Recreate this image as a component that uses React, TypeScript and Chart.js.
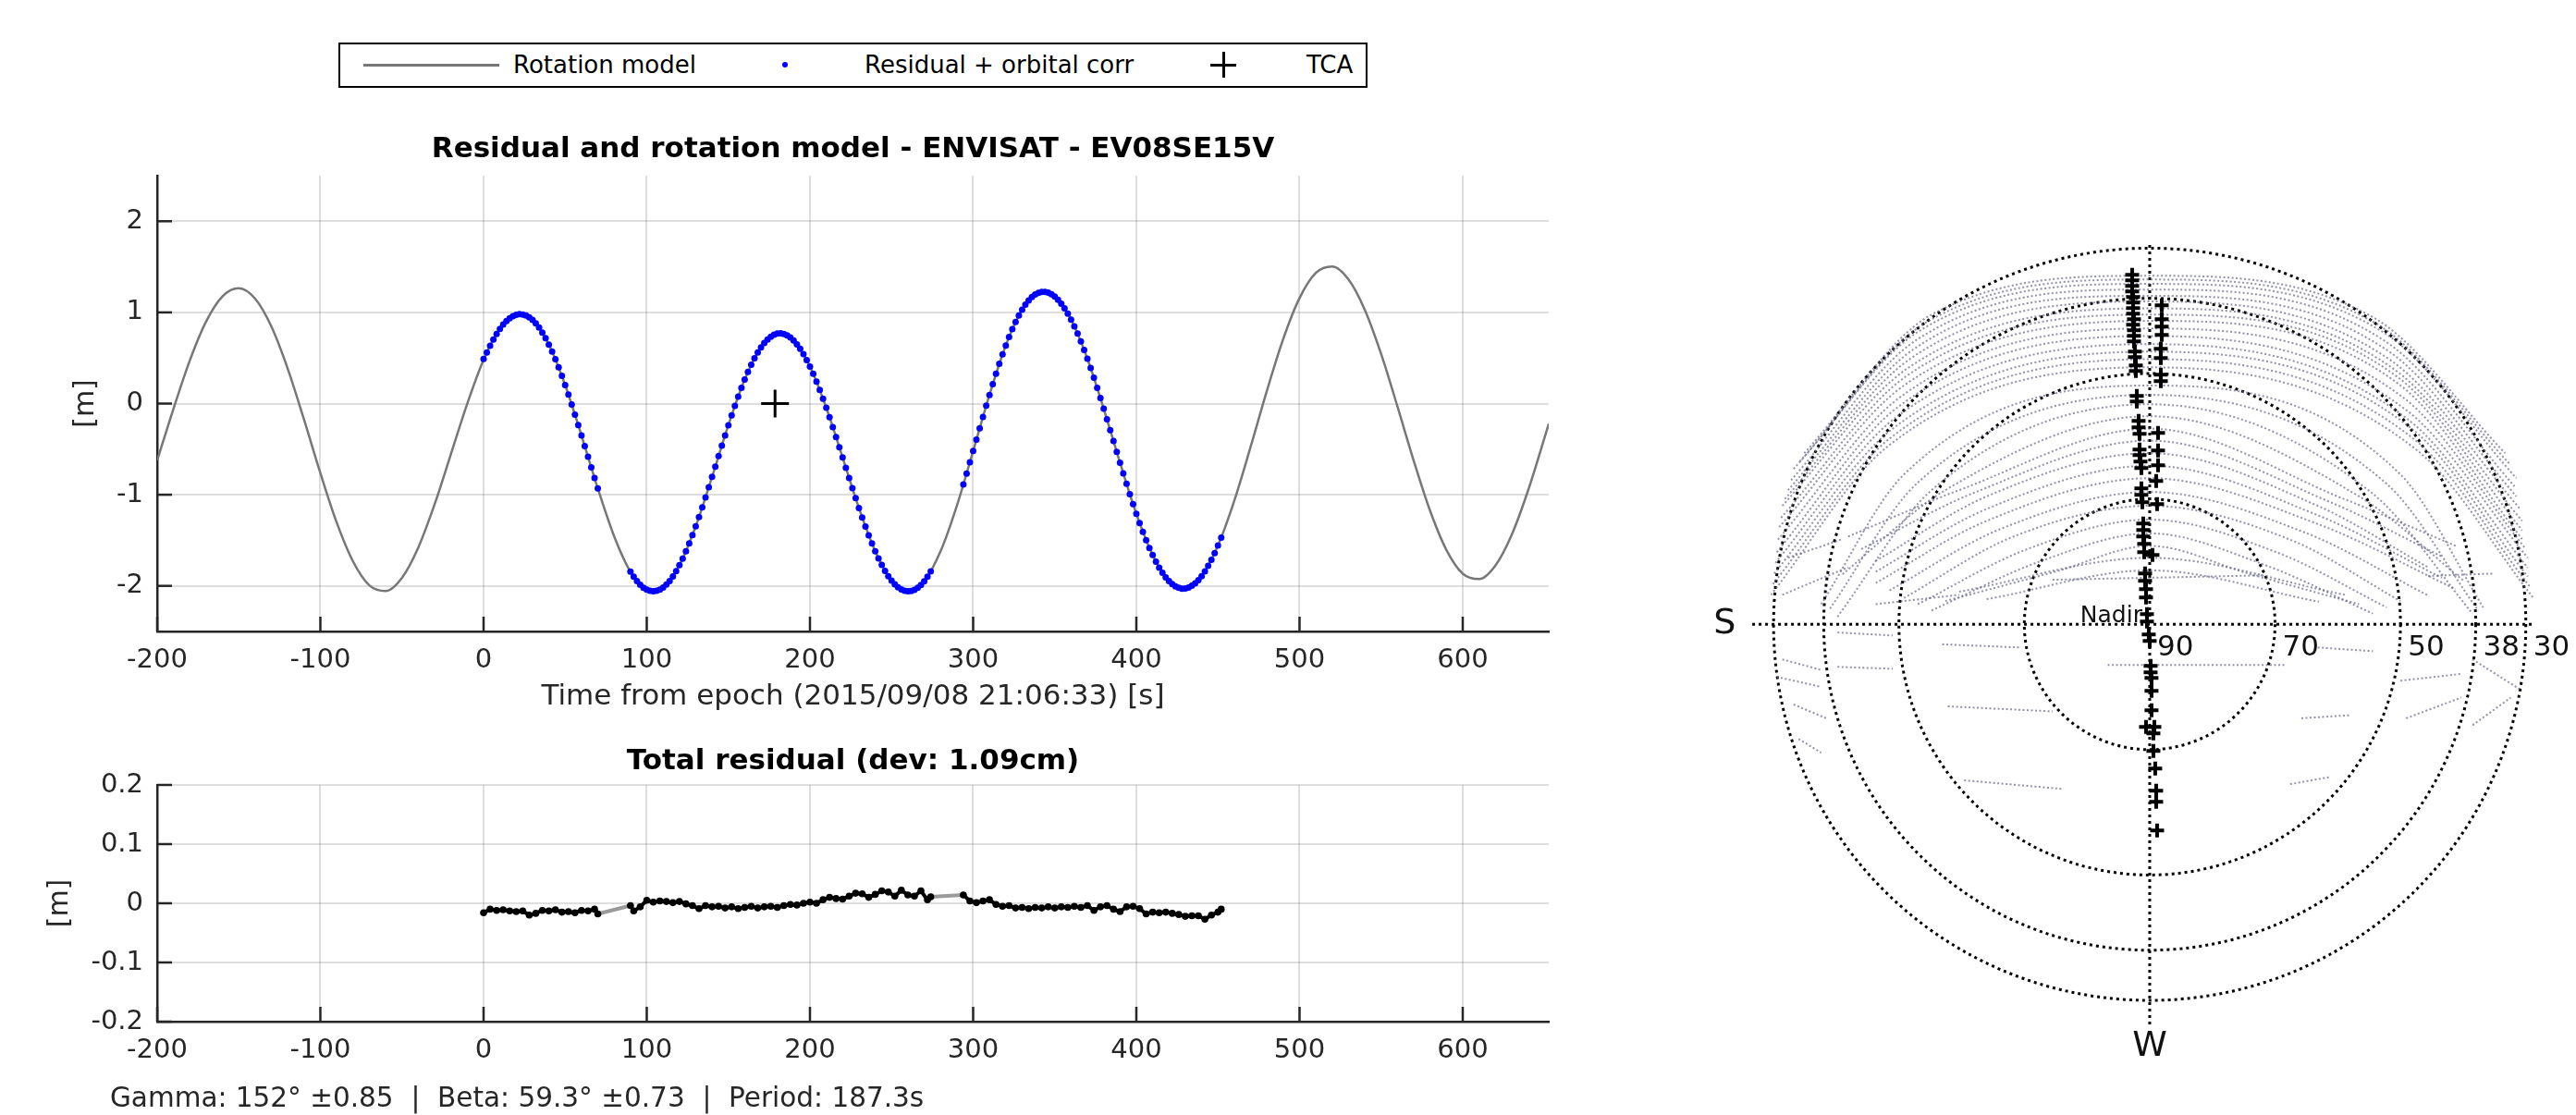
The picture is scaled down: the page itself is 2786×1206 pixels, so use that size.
import React, { useEffect, useRef } from 'react';
import Chart from 'chart.js/auto';

const FONT = '"DejaVu Sans", sans-serif';
const INK = '#262626';

// ---------- axis plots ----------
const xTicks = [-200, -100, 0, 100, 200, 300, 400, 500, 600];
const xRange = [-200, 652.7];
const topYTicks = [-2, -1, 0, 1, 2];
const topYRange = [-2.5, 2.5];
const botYTicks = [-0.2, -0.1, 0, 0.1, 0.2];
const botYRange = [-0.2, 0.2];

const topTitle = 'Residual and rotation model - ENVISAT - EV08SE15V';
const botTitle = 'Total residual (dev: 1.09cm)';
const xTitle = 'Time from epoch (2015/09/08 21:06:33) [s]';
const yTitle = '[m]';
const legendLabels = ['Rotation model', 'Residual + orbital corr', 'TCA'];
const footerText = 'Gamma: 152\u00b0 \u00b10.85  |  Beta: 59.3\u00b0 \u00b10.73  |  Period: 187.3s';

// rotation model [t, m]
const modelPts = [
  [-200, -0.623], [-190, -0.056], [-180, 0.473], [-170, 0.901], [-160, 1.176], [-150, 1.265], [-140, 1.151],
  [-130, 0.844], [-120, 0.382], [-110, -0.177], [-100, -0.763], [-90, -1.305], [-80, -1.732], [-70, -1.994],
  [-60, -2.056], [-50, -1.911], [-40, -1.579], [-30, -1.105], [-20, -0.554], [-10, -0.001], [0, 0.479],
  [10, 0.819], [20, 0.973], [30, 0.917], [40, 0.647], [50, 0.203], [60, -0.35], [70, -0.931], [80, -1.455],
  [90, -1.844], [100, -2.042], [110, -2.018], [120, -1.773], [130, -1.346], [140, -0.805], [150, -0.238],
  [160, 0.263], [170, 0.617], [180, 0.767], [190, 0.691], [200, 0.405], [210, -0.046], [220, -0.591],
  [230, -1.145], [240, -1.62], [250, -1.942], [260, -2.06], [270, -1.95], [280, -1.621], [290, -1.121],
  [300, -0.52], [310, 0.095], [320, 0.637], [330, 1.03], [340, 1.215], [350, 1.173], [360, 0.92], [370, 0.492],
  [380, -0.056], [390, -0.649], [400, -1.209], [410, -1.662], [420, -1.948], [430, -2.028], [440, -1.893],
  [450, -1.558], [460, -1.066], [470, -0.476], [480, 0.141], [490, 0.709], [500, 1.157], [510, 1.433],
  [520, 1.503], [530, 1.361], [540, 1.028], [550, 0.544], [560, -0.032], [570, -0.629], [580, -1.177],
  [590, -1.606], [600, -1.866], [610, -1.925], [620, -1.777], [630, -1.44], [640, -0.956], [650, -0.382],
  [652.7, -0.221],
];

// residual + orbital correction [t, m]
const residualOrbPts = [
  [0, 0.49], [2, 0.56], [4, 0.634], [6, 0.703], [8, 0.764], [10, 0.819], [12, 0.866], [14, 0.905], [16, 0.936],
  [18, 0.959], [20, 0.973], [22, 0.98], [24, 0.977], [26, 0.966], [28, 0.946], [30, 0.917], [32, 0.879],
  [34, 0.833], [36, 0.779], [38, 0.717], [40, 0.647], [42, 0.571], [44, 0.487], [46, 0.398], [48, 0.303],
  [50, 0.203], [52, 0.099], [54, -0.009], [56, -0.121], [58, -0.235], [60, -0.35], [62, -0.467], [64, -0.584],
  [66, -0.701], [68, -0.817], [70, -0.931],
  [90, -1.844], [92, -1.9], [94, -1.948], [96, -1.988], [98, -2.02], [100, -2.042], [102, -2.055], [104, -2.06],
  [106, -2.055], [108, -2.041], [110, -2.018], [112, -1.986], [114, -1.946], [116, -1.896], [118, -1.839],
  [120, -1.773], [122, -1.701], [124, -1.621], [126, -1.535], [128, -1.443], [130, -1.346], [132, -1.244],
  [134, -1.139], [136, -1.03], [138, -0.918], [140, -0.805], [142, -0.691], [144, -0.576], [146, -0.462],
  [148, -0.349], [150, -0.238], [152, -0.13], [154, -0.025], [156, 0.076], [158, 0.172], [160, 0.263],
  [162, 0.347], [164, 0.426], [166, 0.497], [168, 0.561], [170, 0.617], [172, 0.664], [174, 0.703],
  [176, 0.734], [178, 0.755], [180, 0.767], [182, 0.77], [184, 0.763], [186, 0.748], [188, 0.724],
  [190, 0.691], [192, 0.65], [194, 0.6], [196, 0.543], [198, 0.477], [200, 0.405], [202, 0.326], [204, 0.241],
  [206, 0.15], [208, 0.054], [210, -0.046], [212, -0.15], [214, -0.258], [216, -0.367], [218, -0.479],
  [220, -0.591], [222, -0.704], [224, -0.817], [226, -0.928], [228, -1.038], [230, -1.145], [232, -1.249],
  [234, -1.349], [236, -1.445], [238, -1.535], [240, -1.62], [242, -1.699], [244, -1.771], [246, -1.836],
  [248, -1.893], [250, -1.942], [252, -1.983], [254, -2.016], [256, -2.039], [258, -2.054], [260, -2.06],
  [262, -2.057], [264, -2.044], [266, -2.022], [268, -1.99], [270, -1.95], [272, -1.9], [274, -1.842],
  [294, -0.888], [296, -0.767], [298, -0.644], [300, -0.52], [302, -0.395], [304, -0.271], [306, -0.147],
  [308, -0.024], [310, 0.095], [312, 0.212], [314, 0.326], [316, 0.435], [318, 0.539], [320, 0.637],
  [322, 0.73], [324, 0.816], [326, 0.895], [328, 0.966], [330, 1.03], [332, 1.085], [334, 1.131], [336, 1.168],
  [338, 1.196], [340, 1.215], [342, 1.225], [344, 1.225], [346, 1.216], [348, 1.199], [350, 1.173],
  [352, 1.138], [354, 1.095], [356, 1.045], [358, 0.986], [360, 0.92], [362, 0.847], [364, 0.767], [366, 0.681],
  [368, 0.589], [370, 0.492], [372, 0.39], [374, 0.283], [376, 0.173], [378, 0.06], [380, -0.056],
  [382, -0.173], [384, -0.292], [386, -0.411], [388, -0.53], [390, -0.649], [392, -0.766], [394, -0.881],
  [396, -0.994], [398, -1.103], [400, -1.209], [402, -1.31], [404, -1.407], [406, -1.498], [408, -1.584],
  [410, -1.662], [412, -1.735], [414, -1.799], [416, -1.857], [418, -1.906], [420, -1.948], [422, -1.981],
  [424, -2.006], [426, -2.022], [428, -2.03], [430, -2.028], [432, -2.018], [434, -1.999], [436, -1.972],
  [438, -1.937], [440, -1.893], [442, -1.841], [444, -1.781], [446, -1.714], [448, -1.64], [450, -1.558],
  [452, -1.471],
];

const tcaPts = [[178.6, 0]];

// total residual [t, m]
const totalResidualPts = [
  [0, -0.016], [4, -0.01], [8, -0.012], [12, -0.011], [16, -0.013], [20, -0.014], [24, -0.013], [28, -0.02],
  [32, -0.017], [36, -0.012], [40, -0.013], [44, -0.011], [48, -0.015], [52, -0.014], [56, -0.016], [60, -0.012],
  [64, -0.013], [68, -0.01], [70, -0.018],
  [90, -0.004], [92, -0.013], [96, -0.006], [100, 0.005], [104, 0.002], [108, 0.004], [112, 0.003], [116, 0.001],
  [120, 0.003], [124, -0.001], [128, -0.004], [132, -0.009], [136, -0.004], [140, -0.006], [144, -0.005],
  [148, -0.008], [152, -0.006], [156, -0.009], [160, -0.007], [164, -0.005], [168, -0.008], [172, -0.006],
  [176, -0.005], [180, -0.007], [184, -0.004], [188, -0.002], [192, -0.003], [196, 0.0], [200, 0.002],
  [204, 0.0], [208, 0.006], [212, 0.01], [216, 0.008], [220, 0.007], [224, 0.012], [228, 0.017], [232, 0.016],
  [236, 0.01], [240, 0.015], [244, 0.021], [248, 0.019], [252, 0.012], [256, 0.022], [260, 0.014], [264, 0.012],
  [268, 0.021], [272, 0.006], [274, 0.011],
  [294, 0.014], [298, 0.004], [302, 0.001], [306, 0.004], [310, 0.006], [314, -0.002], [318, -0.005],
  [322, -0.004], [326, -0.008], [330, -0.007], [334, -0.009], [338, -0.007], [342, -0.008], [346, -0.006],
  [350, -0.008], [354, -0.006], [358, -0.007], [362, -0.005], [366, -0.007], [370, -0.004], [374, -0.012],
  [378, -0.006], [382, -0.004], [386, -0.01], [390, -0.014], [394, -0.006], [398, -0.005], [402, -0.009],
  [406, -0.018], [410, -0.015], [414, -0.016], [418, -0.015], [422, -0.017], [426, -0.019], [430, -0.022],
  [434, -0.021], [438, -0.021], [442, -0.027], [446, -0.02], [450, -0.015], [452, -0.01],
];

// ---------- sky plot (units: degrees from nadir) ----------
const ringZenith = [20, 40, 52, 60];
const ringLabels = ['70', '50', '38', '30'];
const centerLabel = '90';
const nadirText = 'Nadir';
const compassLabels = [
  { text: 'S', x: -67.8, y: 0 },
  { text: 'W', x: 0, y: -67.4 },
];
const crossExtent = { left: -63.4, right: 61.1, top: 60.5, bottom: -63.9 };

const passTracks = [
  [[-55.1, 27.3], [-34.8, 49.4], [0, 55.6], [35.6, 49.0], [56.7, 27.3]],
  [[-55.8, 26.0], [-35.6, 48.2], [0, 55.0], [36.4, 47.8], [57.5, 25.5]],
  [[-56.8, 24.8], [-36.6, 46.9], [0, 54.3], [37.4, 46.5], [58.5, 23.3]],
  [[-57.2, 23.0], [-37.0, 45.5], [0, 53.4], [37.8, 45.0], [58.2, 22.0]],
  [[-57.7, 21.4], [-37.5, 44.0], [0, 52.4], [38.2, 43.5], [58.5, 20.4]],
  [[-58.2, 20.0], [-38.0, 42.5], [0, 51.5], [38.6, 42.0], [59.0, 18.5]],
  [[-58.6, 18.9], [-38.4, 41.0], [0, 50.4], [39.1, 40.6], [59.4, 16.5]],
  [[-58.8, 17.0], [-38.8, 39.6], [0, 49.4], [39.6, 39.4], [59.4, 15.0]],
  [[-59.1, 15.5], [-39.2, 38.1], [0, 48.4], [40.0, 38.1], [59.4, 13.6]],
  [[-59.3, 13.5], [-39.6, 36.4], [0, 47.2], [40.4, 36.2], [60.0, 12.0]],
  [[-59.5, 11.5], [-40.1, 34.7], [0, 46.0], [40.9, 34.2], [60.3, 10.6]],
  [[-59.7, 9.8], [-40.5, 33.0], [0, 44.7], [41.3, 32.6], [60.3, 9.0]],
  [[-59.9, 8.1], [-41.0, 31.2], [0, 43.5], [41.8, 31.2], [60.3, 7.6]],
  [[-60.1, 6.4], [-41.4, 29.7], [0, 42.3], [42.2, 29.5], [60.8, 5.8]],
  [[-60.4, 4.7], [-41.9, 28.3], [0, 41.0], [42.6, 27.8], [61.2, 4.2]],
  [[-52.4, 3.2], [-39.2, 23.9], [0, 38.1], [40.0, 23.9], [53.2, 2.7]],
  [[-51.0, 2.5], [-37.0, 22.6], [0, 36.6], [37.8, 22.4], [52.4, 2.2]],
  [[-49.8, 1.2], [-34.8, 21.4], [0, 35.1], [35.5, 20.9], [51.5, 1.7]],
  [[-49.0, 8.0], [-32.6, 21.4], [0, 33.2], [33.4, 20.4], [50.0, 7.0]],
  [[-48.1, 14.0], [-30.4, 21.4], [0, 31.2], [31.2, 19.9], [48.8, 12.5]],
  [[-46.0, 12.0], [-28.2, 20.9], [0, 29.3], [29.0, 19.4], [46.6, 10.8]],
  [[-43.7, 10.1], [-26.0, 20.4], [0, 27.3], [26.8, 18.9], [44.4, 9.1]],
  [[-43.7, 8.4], [-26.0, 18.4], [0, 25.3], [26.8, 17.4], [46.6, 7.4]],
  [[-43.7, 6.6], [-26.0, 16.5], [0, 23.3], [26.8, 16.0], [48.8, 5.6]],
  [[-41.5, 5.4], [-23.8, 15.2], [0, 21.1], [24.6, 14.7], [44.4, 4.6]],
  [[-39.2, 4.2], [-21.7, 14.0], [0, 18.9], [22.4, 13.5], [40.0, 3.7]],
  [[-37.0, 3.2], [-19.5, 12.0], [0, 16.7], [20.2, 11.5], [37.8, 2.7]],
  [[-34.8, 2.2], [-17.3, 10.1], [0, 14.5], [18.0, 9.6], [35.6, 1.7]],
  [[-32.6, 3.7], [-15.0, 8.4], [0, 12.5], [16.0, 8.0], [33.4, 3.2]],
  [[-30.4, 5.2], [0, 10.6], [31.2, 4.7]],
  [[-26.0, 4.0], [0, 8.6], [27.0, 3.6]],
  [[-58.6, -5.6], [-52.4, -7.3]],
  [[-59.5, -8.4], [-52.4, -10.0]],
  [[-56.8, -12.8], [-51.6, -15.0]],
  [[-56.0, -18.3], [-52.4, -20.5]],
  [[-49.8, -6.8], [-41.0, -7.1]],
  [[-49.8, -1.3], [-41.0, -1.8]],
  [[-33.1, -3.2], [-20.8, -3.7]],
  [[40.0, -9.0], [49.7, -7.9]],
  [[40.9, -15.0], [49.7, -11.7]],
  [[51.5, -16.1], [57.6, -11.7]],
  [[51.5, -5.6], [59.4, -10.6]],
  [[26.8, -3.7], [35.6, -4.3]],
  [[-32.2, -13.1], [-15.5, -13.9]],
  [[-6.7, -6.5], [21.5, -6.5]],
  [[-29.6, -24.9], [-13.7, -26.3]],
  [[22.4, -25.5], [28.6, -24.4]],
  [[24.2, -15.0], [32.1, -14.5]],
  [[-43.7, 3.2], [-30.4, 4.7]],
  [[44.4, 7.7], [55.0, 8.1]],
  [[-15.5, 7.1], [18.0, 7.8]],
  [[-58.6, 4.7], [-48.1, 9.1]],
  [[-57.7, 10.6], [-49.0, 13.6]],
];

const obsMarkers = [
  [-2.8, 55.75], [-2.8, 54.87], [-2.8, 53.98], [-2.8, 53.1], [-2.65, 52.21], [-2.65, 51.33], [-2.65, 50.44],
  [-2.65, 49.56], [-2.51, 48.67], [-2.65, 47.79], [-2.51, 46.9], [-2.51, 46.02], [-2.51, 45.13], [-2.36, 43.51],
  [-2.36, 42.63], [-2.21, 41.3], [-2.21, 40.41], [-2.06, 36.43], [-2.06, 35.55], [-1.77, 32.45], [-1.77, 31.42],
  [-1.62, 30.38], [-1.62, 27.88], [-1.62, 26.99], [-1.47, 25.96], [-1.33, 24.93], [-1.33, 21.68], [-1.33, 20.65],
  [-1.18, 19.47], [-1.03, 16.08], [-1.03, 15.04], [-1.03, 14.01], [-0.88, 12.83], [-0.88, 11.5], [-0.74, 8.11],
  [-0.74, 6.93], [-0.59, 5.6], [-0.59, 4.28], [-0.44, 1.62], [-0.44, 0.44],
  [-0.15, -1.62], [0, -2.65], [0.15, -6.64], [0.15, -7.67], [0.29, -8.55], [0.29, -10.62], [0.29, -13.72],
  [-0.59, -16.37], [0.74, -16.37], [0.59, -17.4], [0.59, -20.21], [0.88, -23.01], [1.03, -26.55], [1.03, -28.32],
  [1.18, -32.89],
  [1.92, 50.88], [1.92, 48.67], [1.92, 47.49], [1.92, 46.17], [1.77, 43.95], [1.77, 42.48], [1.77, 39.82],
  [1.77, 38.79], [1.33, 30.53], [1.33, 27.73], [1.33, 25.37], [1.03, 22.86], [1.18, 19.17], [0.44, 11.06],
];

// ---------- helpers ----------
const toXY = (arr) => arr.map(([x, y]) => ({ x, y }));
const fmt = (v) => String(Math.round(v * 1000) / 1000);

const inwardTicks = {
  id: 'inwardTicks',
  beforeDatasetsDraw(chart) {
    const { ctx, chartArea, scales } = chart;
    const len = 16;
    ctx.save();
    ctx.strokeStyle = INK;
    ctx.lineWidth = 2.5;
    scales.x.ticks.forEach((t) => {
      const px = scales.x.getPixelForValue(t.value);
      ctx.beginPath();
      ctx.moveTo(px, chartArea.bottom);
      ctx.lineTo(px, chartArea.bottom - len);
      ctx.stroke();
    });
    scales.y.ticks.forEach((t) => {
      const py = scales.y.getPixelForValue(t.value);
      ctx.beginPath();
      ctx.moveTo(chartArea.left, py);
      ctx.lineTo(chartArea.left + len, py);
      ctx.stroke();
    });
    ctx.restore();
  },
};

function axisOptions({ yTicks, yRange, title, titlePad, xHeight, xTitleOn, yTitlePad }) {
  return {
    animation: false,
    responsive: false,
    maintainAspectRatio: false,
    devicePixelRatio: 1,
    events: [],
    layout: { padding: { left: 0, right: 45, top: 0, bottom: 0 }, autoPadding: false },
    plugins: {
      legend: { display: false },
      tooltip: { enabled: false },
      title: {
        display: true,
        text: title,
        fullSize: false,
        color: '#000',
        font: { family: FONT, size: 31, weight: 'bold' },
        padding: titlePad,
      },
    },
    scales: {
      x: {
        type: 'linear',
        min: xRange[0],
        max: xRange[1],
        afterBuildTicks: (s) => { s.ticks = xTicks.map((v) => ({ value: v })); },
        afterFit: (s) => { s.height = xHeight; },
        ticks: { color: INK, font: { family: FONT, size: 29 }, padding: 14, autoSkip: false, maxRotation: 0, callback: (v) => fmt(v) },
        grid: { color: 'rgba(0,0,0,0.13)', lineWidth: 2, drawTicks: false },
        border: { display: true, color: INK, width: 2.5 },
        title: { display: xTitleOn, text: xTitle, color: INK, font: { family: FONT, size: 31 }, padding: { top: 0, bottom: 17 } },
      },
      y: {
        type: 'linear',
        min: yRange[0],
        max: yRange[1],
        afterBuildTicks: (s) => { s.ticks = yTicks.map((v) => ({ value: v })); },
        afterFit: (s) => { s.width = 170; },
        ticks: { color: INK, font: { family: FONT, size: 29 }, padding: 15, callback: (v) => fmt(v) },
        grid: { color: 'rgba(0,0,0,0.13)', lineWidth: 2, drawTicks: false },
        border: { display: true, color: INK, width: 2.5 },
        title: { display: true, text: yTitle, color: INK, font: { family: FONT, size: 30 }, padding: { top: yTitlePad, bottom: 0 } },
      },
    },
  };
}

const polarGrid = {
  id: 'polarGrid',
  beforeDatasetsDraw(chart) {
    const { ctx, scales: { x, y } } = chart;
    const cx = x.getPixelForValue(0);
    const cy = y.getPixelForValue(0);
    ctx.save();
    ctx.strokeStyle = '#000';
    ctx.lineWidth = 3;
    ctx.setLineDash([3, 4]);
    ringZenith.forEach((r) => {
      const rad = x.getPixelForValue(r) - cx;
      ctx.beginPath();
      ctx.arc(cx, cy, rad, 0, Math.PI * 2);
      ctx.stroke();
    });
    ctx.beginPath();
    ctx.moveTo(x.getPixelForValue(crossExtent.left), cy);
    ctx.lineTo(x.getPixelForValue(crossExtent.right), cy);
    ctx.stroke();
    ctx.beginPath();
    ctx.moveTo(cx, y.getPixelForValue(crossExtent.top));
    ctx.lineTo(cx, y.getPixelForValue(crossExtent.bottom));
    ctx.stroke();
    ctx.restore();
  },
  afterDatasetsDraw(chart) {
    const { ctx, scales: { x, y } } = chart;
    const cx = x.getPixelForValue(0);
    const cy = y.getPixelForValue(0);
    ctx.save();
    ctx.fillStyle = '#111';
    ctx.font = `31px ${FONT}`;
    ctx.textAlign = 'left';
    ctx.textBaseline = 'middle';
    ctx.fillText(centerLabel, cx + 8, cy + 26);
    ringZenith.forEach((r, i) => {
      ctx.fillText(ringLabels[i], x.getPixelForValue(r) + 8, cy + 26);
    });
    ctx.font = `25px ${FONT}`;
    ctx.textAlign = 'right';
    ctx.textBaseline = 'alphabetic';
    ctx.fillText(nadirText, cx - 8, cy - 2);
    ctx.font = `38px ${FONT}`;
    ctx.textAlign = 'center';
    ctx.textBaseline = 'middle';
    compassLabels.forEach((l) => {
      ctx.fillText(l.text, x.getPixelForValue(l.x), y.getPixelForValue(l.y));
    });
    ctx.restore();
  },
};

function CanvasBox({ left, top, width, height, innerRef }) {
  return (
    <div style={{ position: 'absolute', left, top, width, height }}>
      <canvas ref={innerRef} width={width} height={height} style={{ width, height, display: 'block' }} />
    </div>
  );
}

export default function App() {
  const topRef = useRef(null);
  const botRef = useRef(null);
  const polarRef = useRef(null);

  useEffect(() => {
    const charts = [];

    charts.push(new Chart(topRef.current, {
      type: 'scatter',
      data: {
        datasets: [
          {
            label: legendLabels[2], data: toXY(tcaPts), order: 0,
            pointStyle: 'cross', pointRadius: 15, pointBorderWidth: 3, pointBorderColor: '#000', borderColor: '#000',
          },
          {
            label: legendLabels[1], data: toXY(residualOrbPts), order: 1,
            pointRadius: 3.5, pointBorderWidth: 0, pointBackgroundColor: '#0000ff', backgroundColor: '#0000ff', borderColor: '#0000ff',
          },
          {
            label: legendLabels[0], data: toXY(modelPts), order: 2, showLine: true,
            borderColor: '#777777', borderWidth: 2.5, pointRadius: 0, cubicInterpolationMode: 'monotone',
          },
        ],
      },
      options: axisOptions({
        yTicks: topYTicks, yRange: topYRange, title: topTitle,
        titlePad: { top: 43.4, bottom: 9.4 }, xHeight: 107, xTitleOn: true, yTitlePad: 75,
      }),
      plugins: [inwardTicks],
    }));

    charts.push(new Chart(botRef.current, {
      type: 'scatter',
      data: {
        datasets: [
          {
            label: 'Total residual', data: toXY(totalResidualPts), showLine: true,
            borderColor: '#000', borderWidth: 4, pointRadius: 3.8, pointBorderWidth: 0,
            pointBackgroundColor: '#000', backgroundColor: '#000',
            segment: {
              borderColor: (c) => (c.p1.parsed.x - c.p0.parsed.x > 8 ? '#9a9a9a' : undefined),
              borderWidth: (c) => (c.p1.parsed.x - c.p0.parsed.x > 8 ? 4 : undefined),
            },
          },
        ],
      },
      options: axisOptions({
        yTicks: botYTicks, yRange: botYRange, title: botTitle,
        titlePad: { top: 15.4, bottom: 6.4 }, xHeight: 101, xTitleOn: false, yTitlePad: 47,
      }),
      plugins: [inwardTicks],
    }));

    const trackSets = passTracks.map((tr) => ({
      data: toXY(tr), showLine: true, pointRadius: 0, cubicInterpolationMode: 'monotone',
      borderColor: 'rgba(100,100,135,0.7)', borderWidth: 2, borderDash: [2, 2.5], order: 2,
    }));

    charts.push(new Chart(polarRef.current, {
      type: 'scatter',
      data: {
        datasets: [
          {
            data: toXY(obsMarkers), order: 0, pointStyle: 'cross', pointRadius: 7.5,
            pointBorderWidth: 4, pointBorderColor: '#000', borderColor: '#000',
          },
          ...trackSets,
        ],
      },
      options: {
        animation: false,
        responsive: false,
        maintainAspectRatio: false,
        devicePixelRatio: 1,
        events: [],
        layout: { padding: 0, autoPadding: false },
        plugins: { legend: { display: false }, tooltip: { enabled: false }, title: { display: false } },
        scales: {
          x: { type: 'linear', min: -73.0, max: 68.0, display: false },
          y: { type: 'linear', min: -78.3, max: 64.2, display: false },
        },
      },
      plugins: [polarGrid],
    }));

    return () => charts.forEach((c) => c.destroy());
  }, []);

  const legendText = { position: 'absolute', top: 0, lineHeight: '45px', fontSize: 26, fontFamily: FONT, color: '#000', whiteSpace: 'pre' };

  return (
    <div style={{ position: 'absolute', left: 0, top: 0, width: 2786, height: 1206, background: '#fff', fontFamily: FONT, overflow: 'hidden' }}>
      <div style={{ position: 'absolute', left: 366, top: 46, width: 1113, height: 49, border: '2px solid #000', boxSizing: 'border-box', background: '#fff' }}>
        <div style={{ position: 'absolute', left: 25, top: 21, width: 147, height: 2.5, background: '#777' }} />
        <span style={{ ...legendText, left: 187 }}>{legendLabels[0]}</span>
        <div style={{ position: 'absolute', left: 478, top: 19, width: 6, height: 6, borderRadius: 3, background: '#0000ff' }} />
        <span style={{ ...legendText, left: 567 }}>{legendLabels[1]}</span>
        <div style={{ position: 'absolute', left: 941, top: 20.5, width: 28, height: 3, background: '#000' }} />
        <div style={{ position: 'absolute', left: 953.5, top: 8, width: 3, height: 28, background: '#000' }} />
        <span style={{ ...legendText, left: 1045 }}>{legendLabels[2]}</span>
      </div>
      <CanvasBox left={0} top={100} width={1720} height={690} innerRef={topRef} />
      <CanvasBox left={0} top={790} width={1720} height={416} innerRef={botRef} />
      <CanvasBox left={1830} top={240} width={956} height={966} innerRef={polarRef} />
      <div style={{ position: 'absolute', left: 119, top: 1169, lineHeight: '36px', fontSize: 29.5, fontFamily: FONT, color: INK, whiteSpace: 'pre' }}>
        {footerText}
      </div>
    </div>
  );
}
